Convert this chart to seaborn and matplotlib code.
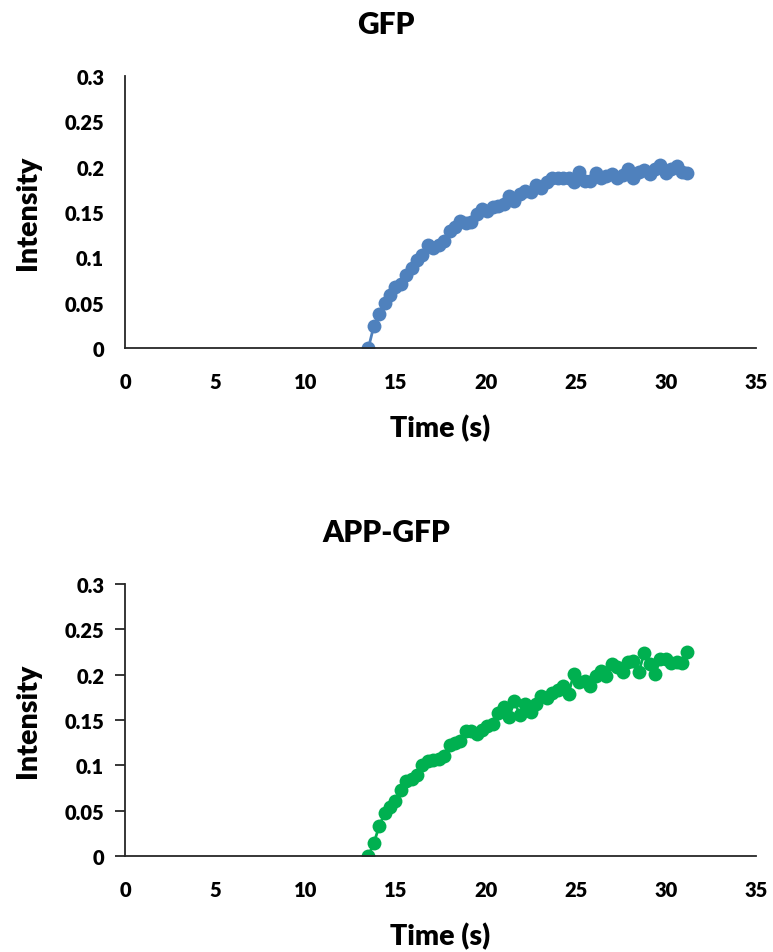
import numpy as np
import pandas as pd
import matplotlib
matplotlib.use("Agg")
import matplotlib.pyplot as plt
import seaborn as sns

# ---- data ----
time_s = [13.5, 13.8, 14.1, 14.4, 14.7, 15.0, 15.3, 15.6, 15.9, 16.2,
          16.5, 16.8, 17.1, 17.4, 17.7, 18.0, 18.3, 18.6, 18.9, 19.2,
          19.5, 19.8, 20.1, 20.4, 20.7, 21.0, 21.3, 21.6, 21.9, 22.2,
          22.5, 22.8, 23.1, 23.4, 23.7, 24.0, 24.3, 24.6, 24.9, 25.2,
          25.5, 25.8, 26.1, 26.4, 26.7, 27.0, 27.3, 27.6, 27.9, 28.2,
          28.5, 28.8, 29.1, 29.4, 29.7, 30.0, 30.3, 30.6, 30.9, 31.2]

gfp = [0.000, 0.024, 0.037, 0.050, 0.058, 0.067, 0.071, 0.080, 0.088, 0.097,
       0.103, 0.114, 0.110, 0.114, 0.118, 0.129, 0.133, 0.140, 0.138, 0.139,
       0.148, 0.153, 0.151, 0.155, 0.157, 0.159, 0.168, 0.162, 0.170, 0.173,
       0.172, 0.180, 0.177, 0.183, 0.188, 0.187, 0.187, 0.188, 0.183, 0.194,
       0.184, 0.184, 0.193, 0.188, 0.190, 0.192, 0.188, 0.191, 0.197, 0.188,
       0.194, 0.196, 0.192, 0.197, 0.202, 0.193, 0.197, 0.201, 0.194, 0.193]

app_gfp = [0.000, 0.014, 0.033, 0.047, 0.054, 0.061, 0.073, 0.083, 0.085, 0.089,
           0.100, 0.105, 0.106, 0.107, 0.110, 0.122, 0.125, 0.127, 0.138, 0.138,
           0.135, 0.139, 0.143, 0.146, 0.158, 0.164, 0.153, 0.171, 0.155, 0.168,
           0.159, 0.168, 0.177, 0.174, 0.180, 0.183, 0.188, 0.179, 0.201, 0.192,
           0.193, 0.188, 0.199, 0.204, 0.198, 0.212, 0.208, 0.203, 0.214, 0.215,
           0.203, 0.224, 0.212, 0.201, 0.217, 0.217, 0.213, 0.214, 0.213, 0.225]

titles = ["GFP", "APP-GFP"]
colors = ["#4F81BD", "#00B050"]
x_ticks = [0, 5, 10, 15, 20, 25, 30, 35]
y_ticks = [0, 0.05, 0.1, 0.15, 0.2, 0.25, 0.3]
y_tick_labels = ["0", "0.05", "0.1", "0.15", "0.2", "0.25", "0.3"]

sns.set_style("white")
plt.rcParams["font.family"] = ["Lato", "DejaVu Sans"]
plt.rcParams["font.weight"] = "bold"
plt.rcParams["text.color"] = "black"
plt.rcParams["axes.labelcolor"] = "black"

W, H = 773, 953
fig = plt.figure(figsize=(W / 100, H / 100), dpi=100)

axes_px = [(125, 77, 756, 349), (125, 585, 756, 857)]
title_y = [25, 533]
series = [gfp, app_gfp]
spine_col = "#262626"
WEIGHT = "heavy"

for i, (l, t, r, b) in enumerate(axes_px):
    ax = fig.add_axes([l / W, 1 - b / H, (r - l) / W, (b - t) / H])
    df = pd.DataFrame({"Time (s)": time_s, "Intensity": series[i]})
    sns.lineplot(data=df, x="Time (s)", y="Intensity", ax=ax, color=colors[i],
                 marker="o", markersize=10, markeredgewidth=0,
                 linewidth=2.0, sort=False)
    ax.set_xlim(0, 35)
    ax.set_ylim(0, 0.3)
    ax.set_xticks(x_ticks)
    ax.set_xticklabels([str(v) for v in x_ticks])
    ax.set_yticks(y_ticks)
    ax.set_yticklabels(y_tick_labels)
    for s in ["top", "right"]:
        ax.spines[s].set_visible(False)
    for s in ["left", "bottom"]:
        ax.spines[s].set_color(spine_col)
        ax.spines[s].set_linewidth(1.3)
    ax.tick_params(axis="x", length=0, pad=17, labelsize=14.5, labelcolor="black")
    if i == 1:
        ax.tick_params(axis="y", direction="out", length=7, width=1.3,
                       color=spine_col, left=True, pad=8, labelsize=14.5,
                       labelcolor="black")
    else:
        ax.tick_params(axis="y", length=0, pad=15, labelsize=14.5, labelcolor="black")
    for lab in ax.get_xticklabels() + ax.get_yticklabels():
        lab.set_fontweight(WEIGHT)
    ax.set_xlabel("Time (s)", fontsize=20.5, fontweight=WEIGHT, labelpad=17)
    ax.set_ylabel("Intensity", fontsize=20.5, fontweight=WEIGHT, labelpad=17)
    ax.grid(False)
    fig.text(386 / W, 1 - title_y[i] / H, titles[i], ha="center", va="center",
             fontsize=21.5, fontweight=WEIGHT)

fig.savefig("out.png", dpi=100)
